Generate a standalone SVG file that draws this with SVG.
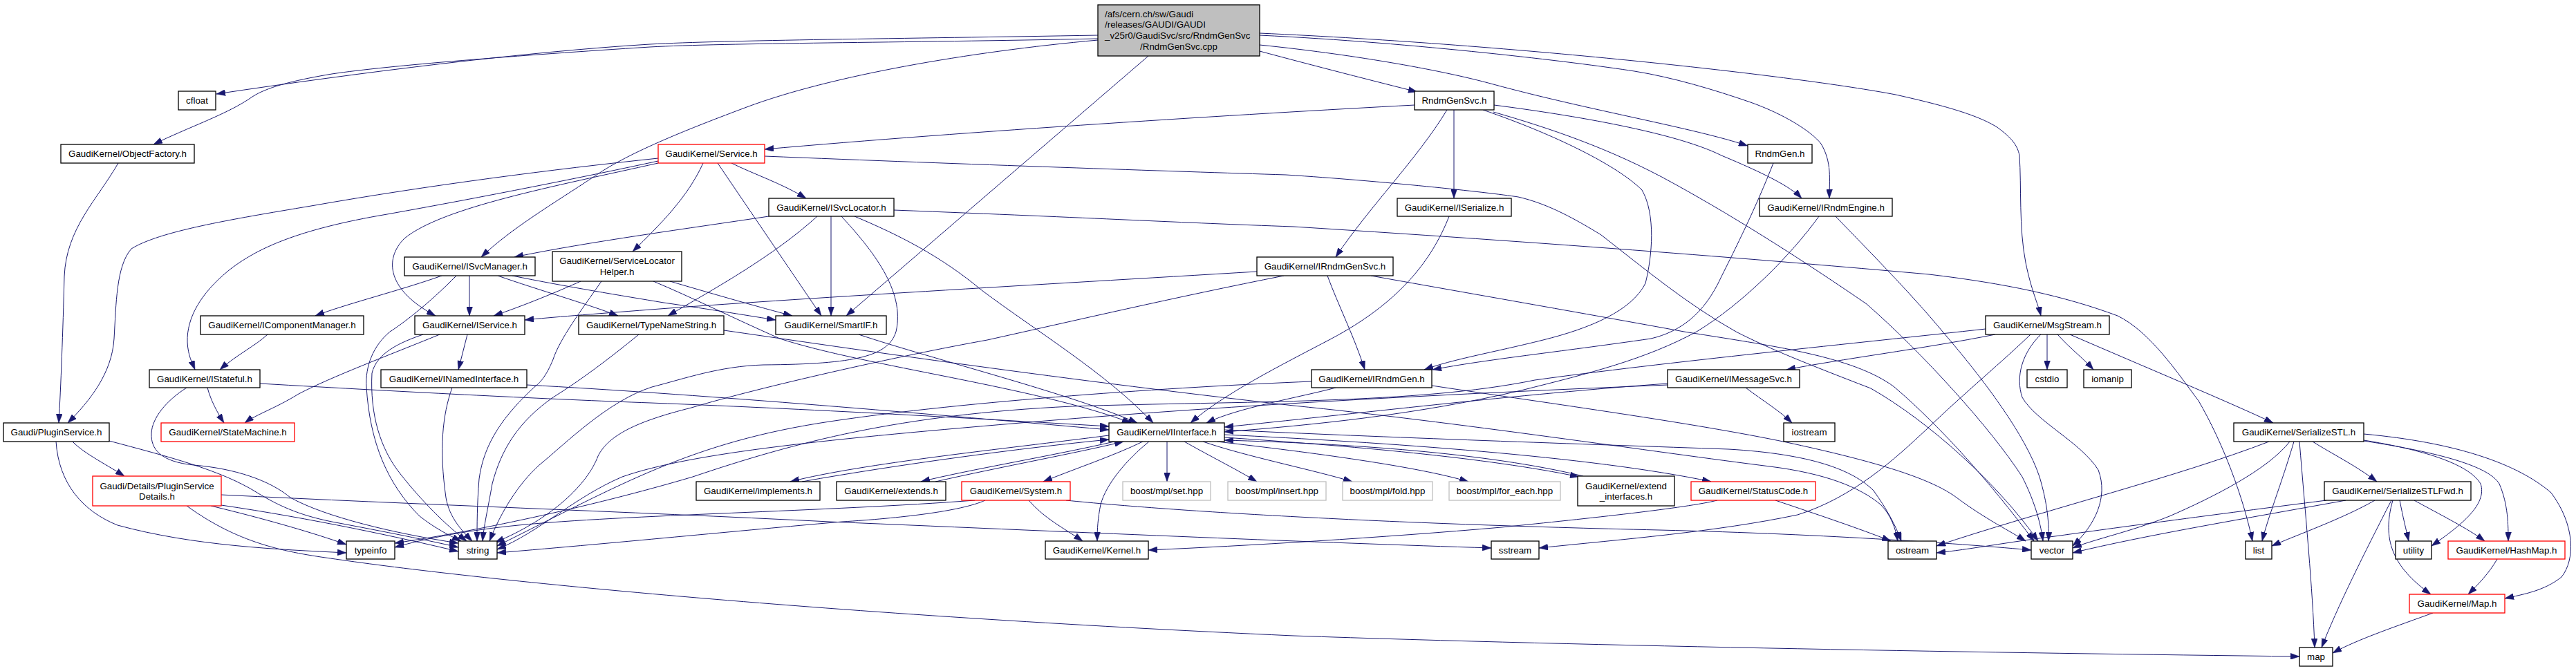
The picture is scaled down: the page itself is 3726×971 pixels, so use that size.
<svg xmlns="http://www.w3.org/2000/svg" width="3726" height="971" viewBox="0 0 3726 971">
<style>
.n rect{fill:#fff;stroke:#000;stroke-width:1.3}
.n.r rect{stroke:#f00}
.n.g rect{stroke:#bfbfbf}
.n.m rect{fill:#bfbfbf}
text{font-family:"Liberation Sans",Arial,Helvetica,sans-serif;font-size:13.33px;fill:#000;text-anchor:middle}
text.l{text-anchor:start}
#edges path{fill:none;stroke:#191970;stroke-width:1;marker-end:url(#a)}
</style>
<defs>
<marker id="a" markerUnits="userSpaceOnUse" markerWidth="13" markerHeight="9" refX="13" refY="4.5" orient="auto" viewBox="0 0 13 9"><path d="M0,0 L13,4.5 L0,9 Z" fill="#191970" stroke="#191970" stroke-width="0.5"/></marker>
</defs>
<rect width="3726" height="971" fill="#fff"/>
<g id="edges">
<path d="M1588,51 C1300,56 1050,58 940,64 C760,75 520,105 313,136"/>
<path d="M1588,56 C1300,62 1050,62 940,68 C750,80 560,95 480,107 C420,117 385,127 365,140 C330,165 270,185 222,209"/>
<path d="M1588,58 C1400,75 1200,110 1080,155 C1000,185 910,220 860,255 C800,295 740,330 696,372"/>
<path d="M1661,81 L1224,457"/>
<path d="M1822,74 C1900,95 1990,118 2050,133"/>
<path d="M1822,65 C1950,78 2080,100 2160,122 C2300,160 2450,185 2528,211"/>
<path d="M1822,51 C2050,62 2280,90 2364,103 C2420,112 2480,130 2532,148 C2580,165 2620,190 2634,208 C2650,235 2646,260 2646,287"/>
<path d="M1822,48 C2200,65 2600,110 2742,137 C2800,150 2860,165 2890,185 C2910,200 2918,210 2921,225 C2924,270 2920,330 2930,380 C2938,420 2948,440 2952,457"/>
<path d="M171,236 C140,290 96,330 93,400 C91,480 88,560 85,612"/>
<path d="M952,229 C800,245 620,268 450,298 C330,318 230,335 190,360 C168,385 168,440 165,490 C162,540 130,580 98,612"/>
<path d="M952,233 C850,255 700,285 560,310 C430,332 370,360 330,392 C290,425 270,460 271,495 C272,515 278,525 282,535"/>
<path d="M952,236 C800,270 640,300 585,345 C555,375 560,420 630,457"/>
<path d="M1017,236 C995,285 955,325 915,364"/>
<path d="M1038,236 L1188,457"/>
<path d="M1058,236 C1090,252 1130,265 1166,287"/>
<path d="M1106,226 C1400,238 1700,248 1860,253 C2000,262 2150,278 2196,285 C2240,295 2280,318 2316,340 C2380,390 2440,440 2511,480 C2560,505 2610,525 2706,562 C2790,610 2890,700 2948,783"/>
<path d="M1112,313 C1000,330 850,350 744,372"/>
<path d="M1182,313 C1120,370 1030,420 966,457"/>
<path d="M1202,313 L1202,457"/>
<path d="M1217,313 C1260,360 1310,420 1296,480 C1285,515 1240,527 1104,528 C1040,530 990,548 943,560 C880,580 820,640 780,673 C750,700 725,740 708,783"/>
<path d="M1236,313 C1300,340 1360,370 1420,420 C1500,480 1600,540 1668,612"/>
<path d="M1293,304 C1600,316 1700,322 1871,328 C2300,355 2600,380 2790,397 C2900,410 2985,428 3063,457 C3110,480 3150,540 3180,580 C3215,640 3245,720 3258,783"/>
<path d="M639,399 C580,420 500,440 456,457"/>
<path d="M660,399 C620,440 580,470 564,480 C540,500 528,530 530,560 C535,640 560,700 607,747 C630,765 650,775 667,783"/>
<path d="M679,399 L679,457"/>
<path d="M720,399 C780,420 850,440 894,457"/>
<path d="M741,399 C820,415 900,428 960,438 C1030,448 1090,458 1122,463"/>
<path d="M840,407 C800,425 750,445 714,457"/>
<path d="M870,407 C840,450 810,490 800,520 C790,545 780,555 773,560 C730,600 700,640 693,693 C690,730 690,760 690,783"/>
<path d="M969,407 C1030,425 1100,445 1146,457"/>
<path d="M945,407 C1000,430 1060,460 1128,490 C1250,530 1500,560 1636,612"/>
<path d="M387,484 C370,500 340,515 318,535"/>
<path d="M636,484 C560,515 480,545 432,570 C400,590 370,600 354,612"/>
<path d="M676,484 L663,535"/>
<path d="M612,484 C580,495 545,510 538,540 C535,600 550,650 580,687 C610,725 645,760 675,783"/>
<path d="M924,484 C880,520 840,550 800,575 C750,610 725,650 712,700 C705,740 700,760 698,783"/>
<path d="M1047,478 C1200,500 1500,545 1871,587 C2100,610 2400,655 2560,675 C2640,685 2690,705 2720,730 C2735,745 2742,765 2745,783"/>
<path d="M1242,484 C1350,520 1550,570 1645,612"/>
<path d="M2046,152 C1800,165 1400,190 1106,216"/>
<path d="M2093,159 C2050,230 1980,300 1932,372"/>
<path d="M2103,159 L2103,287"/>
<path d="M2145,159 C2250,195 2340,240 2375,275 C2395,310 2390,370 2380,410 C2360,450 2300,475 2232,492 C2160,510 2100,520 2060,535"/>
<path d="M2160,162 C2240,185 2330,215 2420,265 C2520,320 2620,385 2700,440 C2780,510 2880,620 2925,690 C2945,730 2952,760 2955,783"/>
<path d="M2161,152 C2300,170 2430,195 2490,225 C2550,250 2590,270 2606,287"/>
<path d="M2565,236 C2540,300 2510,360 2490,400 C2465,455 2430,480 2388,490 C2250,510 2150,520 2072,535"/>
<path d="M2631,313 C2590,370 2520,440 2454,480 C2380,520 2300,540 2200,565 C2050,600 1900,615 1771,625"/>
<path d="M2655,313 C2700,360 2760,420 2810,480 C2870,550 2930,630 2950,690 C2962,730 2964,760 2963,783"/>
<path d="M2096,313 C2070,380 2020,440 1926,490 C1850,530 1770,570 1722,612"/>
<path d="M1920,399 C1935,440 1960,490 1974,535"/>
<path d="M1818,393 C1500,412 1150,432 941,448 C850,455 800,459 759,463"/>
<path d="M1857,399 C1700,430 1550,465 1428,492 C1300,515 1100,560 1000,590 C920,610 880,630 865,660 C850,700 800,750 716,785"/>
<path d="M1983,399 C2100,420 2300,455 2436,480 C2560,500 2680,515 2740,560 C2810,620 2880,700 2942,783"/>
<path d="M300,561 C305,580 315,598 324,612"/>
<path d="M376,555 C600,568 800,578 941,583 C1200,593 1450,608 1604,617"/>
<path d="M270,561 C240,580 220,605 219,627 C218,650 232,668 280,673 C340,678 390,695 420,720 C470,748 570,772 663,786"/>
<path d="M762,557 C1000,570 1300,595 1604,622"/>
<path d="M654,561 C640,600 635,650 645,720 C650,750 670,770 683,783"/>
<path d="M105,639 C120,655 150,670 180,689"/>
<path d="M81,639 C85,700 120,740 170,760 C280,790 400,795 501,800"/>
<path d="M158,638 C240,660 320,680 372,713 C400,730 430,745 480,755 C560,770 620,782 663,792"/>
<path d="M305,732 C380,750 450,770 501,788"/>
<path d="M320,731 C450,750 580,778 663,798"/>
<path d="M320,716 C600,730 900,740 1200,755 C1600,772 1900,785 2157,793"/>
<path d="M270,732 C350,790 420,800 492,810 C700,840 1200,890 1871,920 C2300,935 2900,945 3326,950"/>
<path d="M1604,630 C1450,650 1250,670 1143,697"/>
<path d="M1160,697 C1300,672 1480,648 1604,636"/>
<path d="M1612,639 C1520,660 1400,680 1332,697"/>
<path d="M1353,697 C1450,675 1560,655 1625,639"/>
<path d="M1653,639 C1610,660 1550,680 1509,697"/>
<path d="M1688,639 L1688,697"/>
<path d="M1713,639 C1750,660 1790,680 1818,697"/>
<path d="M1740,639 C1800,660 1900,680 1956,697"/>
<path d="M1760,639 C1900,655 2050,675 2124,697"/>
<path d="M1771,633 C1950,645 2150,662 2284,690"/>
<path d="M2290,689 C2150,655 1950,642 1771,637"/>
<path d="M1771,629 C2000,640 2300,660 2475,697"/>
<path d="M1771,622 C2000,633 2300,643 2500,650 C2620,657 2680,680 2710,710 C2728,735 2742,760 2750,783"/>
<path d="M1662,639 C1630,665 1600,700 1592,730 C1588,750 1587,765 1587,783"/>
<path d="M1488,724 C1510,750 1540,765 1566,783"/>
<path d="M1425,724 C1390,740 1300,750 1218,755 C1100,765 900,785 719,800"/>
<path d="M1410,724 C1200,740 900,745 750,760 C680,767 620,778 571,792"/>
<path d="M1542,724 C1700,740 2000,758 2400,767 C2650,773 2850,788 2938,796"/>
<path d="M2568,724 C2630,745 2690,765 2735,783"/>
<path d="M2484,724 C2440,735 2300,750 2172,763 C2000,778 1800,790 1661,796"/>
<path d="M1932,561 C1880,575 1790,590 1745,612"/>
<path d="M1897,552 C1700,560 1400,580 1200,610 C1000,640 900,700 719,790"/>
<path d="M2071,558 C2250,585 2450,612 2584,640 C2700,665 2790,690 2830,720 C2870,750 2910,770 2930,783"/>
<path d="M2525,561 C2550,580 2575,595 2592,612"/>
<path d="M2412,555 C2200,570 1950,600 1771,618"/>
<path d="M2412,557 C2100,570 1800,585 1500,610 C1200,635 1000,655 900,690 C830,720 780,770 719,795"/>
<path d="M2886,484 C2780,505 2660,520 2584,535"/>
<path d="M2872,476 C2700,495 2400,525 2220,550 C2050,585 1800,580 1550,588 C1300,600 1150,640 1002,690 C850,735 680,770 571,786"/>
<path d="M2937,484 C2900,520 2840,570 2788,620 C2740,665 2680,720 2600,745 C2480,770 2350,780 2226,793"/>
<path d="M2952,484 C2925,510 2915,545 2925,575 C2945,610 3010,640 3035,680 C3050,720 3030,760 2998,790"/>
<path d="M2961,484 L2961,535"/>
<path d="M2976,484 C2995,505 3015,520 3028,535"/>
<path d="M2994,484 C3100,530 3220,580 3288,612"/>
<path d="M3282,639 C3150,690 2950,740 2801,790"/>
<path d="M3312,639 C3280,680 3200,720 3138,747 C3080,770 3030,780 2998,793"/>
<path d="M3318,639 C3300,700 3280,750 3272,783"/>
<path d="M3326,639 C3335,750 3345,850 3348,937"/>
<path d="M3345,639 C3370,655 3410,675 3438,697"/>
<path d="M3419,637 C3500,650 3570,670 3588,700 C3598,730 3560,760 3517,790"/>
<path d="M3419,638 C3530,655 3600,675 3615,700 C3628,730 3628,760 3628,783"/>
<path d="M3419,628 C3550,640 3640,670 3690,713 C3725,760 3725,810 3705,835 C3680,855 3650,860 3623,866"/>
<path d="M3365,724 C3200,745 3050,765 2980,775 C2900,785 2850,795 2801,800"/>
<path d="M3393,724 C3250,750 3100,775 2998,800"/>
<path d="M3435,724 C3390,750 3320,775 3286,790"/>
<path d="M3459,724 C3420,800 3380,880 3358,937"/>
<path d="M3471,724 C3476,750 3480,765 3484,783"/>
<path d="M3492,724 C3530,745 3570,765 3594,783"/>
<path d="M3461,724 C3445,780 3460,820 3516,860"/>
<path d="M3612,809 C3600,830 3585,845 3570,860"/>
<path d="M3519,887 C3470,905 3410,925 3374,945"/>
</g>
<g id="n_main" class="n m"><rect x="1588" y="7" width="234" height="74"/><text class="l" x="1598" y="24.5">/afs/cern.ch/sw/Gaudi</text><text class="l" x="1598" y="40.3">/releases/GAUDI/GAUDI</text><text class="l" x="1598" y="56.1">_v25r0/GaudiSvc/src/RndmGenSvc</text><text x="1705" y="72">/RndmGenSvc.cpp</text></g>
<g id="n_cfloat" class="n"><rect x="258" y="132" width="54" height="27"/><text x="285" y="150">cfloat</text></g>
<g id="n_objectfactory" class="n"><rect x="88" y="209" width="193" height="27"/><text x="184.5" y="227">GaudiKernel/ObjectFactory.h</text></g>
<g id="n_isvcmanager" class="n"><rect x="585" y="372" width="189" height="27"/><text x="679.5" y="390">GaudiKernel/ISvcManager.h</text></g>
<g id="n_smartif" class="n"><rect x="1122" y="457" width="160" height="27"/><text x="1202" y="475">GaudiKernel/SmartIF.h</text></g>
<g id="n_rndmgensvc_h" class="n"><rect x="2046" y="132" width="115" height="27"/><text x="2103.5" y="150">RndmGenSvc.h</text></g>
<g id="n_rndmgen_h" class="n"><rect x="2528" y="209" width="93" height="27"/><text x="2574.5" y="227">RndmGen.h</text></g>
<g id="n_irndmengine" class="n"><rect x="2545" y="287" width="192" height="26"/><text x="2641" y="304.5">GaudiKernel/IRndmEngine.h</text></g>
<g id="n_msgstream" class="n"><rect x="2872" y="457" width="179" height="27"/><text x="2961.5" y="475">GaudiKernel/MsgStream.h</text></g>
<g id="n_service" class="n r"><rect x="952" y="209" width="154" height="27"/><text x="1029" y="227">GaudiKernel/Service.h</text></g>
<g id="n_isvclocator" class="n"><rect x="1112" y="287" width="181" height="26"/><text x="1202.5" y="304.5">GaudiKernel/ISvcLocator.h</text></g>
<g id="n_servicelocatorhelper" class="n"><rect x="799" y="364" width="187" height="43"/><text x="892.5" y="381.5">GaudiKernel/ServiceLocator</text><text x="892.5" y="397.5">Helper.h</text></g>
<g id="n_icomponentmanager" class="n"><rect x="290" y="457" width="236" height="27"/><text x="408" y="475">GaudiKernel/IComponentManager.h</text></g>
<g id="n_iservice" class="n"><rect x="600" y="457" width="159" height="27"/><text x="679.5" y="475">GaudiKernel/IService.h</text></g>
<g id="n_typenamestring" class="n"><rect x="837" y="457" width="210" height="27"/><text x="942" y="475">GaudiKernel/TypeNameString.h</text></g>
<g id="n_iserialize" class="n"><rect x="2021" y="287" width="165" height="26"/><text x="2103.5" y="304.5">GaudiKernel/ISerialize.h</text></g>
<g id="n_irndmgensvc" class="n"><rect x="1818" y="372" width="197" height="27"/><text x="1916.5" y="390">GaudiKernel/IRndmGenSvc.h</text></g>
<g id="n_istateful" class="n"><rect x="216" y="535" width="160" height="26"/><text x="296" y="552.5">GaudiKernel/IStateful.h</text></g>
<g id="n_inamedinterface" class="n"><rect x="551" y="535" width="211" height="26"/><text x="656.5" y="552.5">GaudiKernel/INamedInterface.h</text></g>
<g id="n_pluginservice" class="n"><rect x="5" y="612" width="153" height="27"/><text x="81.5" y="630">Gaudi/PluginService.h</text></g>
<g id="n_statemachine" class="n r"><rect x="233" y="612" width="193" height="27"/><text x="329.5" y="630">GaudiKernel/StateMachine.h</text></g>
<g id="n_pluginservicedetails" class="n r"><rect x="134" y="689" width="186" height="43"/><text x="227" y="707.5">Gaudi/Details/PluginService</text><text x="227" y="723">Details.h</text></g>
<g id="n_typeinfo" class="n"><rect x="501" y="783" width="70" height="26"/><text x="536" y="800.5">typeinfo</text></g>
<g id="n_string" class="n"><rect x="663" y="783" width="56" height="26"/><text x="691" y="800.5">string</text></g>
<g id="n_iinterface" class="n"><rect x="1604" y="612" width="167" height="27"/><text x="1687.5" y="630">GaudiKernel/IInterface.h</text></g>
<g id="n_implements" class="n"><rect x="1007" y="697" width="179" height="27"/><text x="1096.5" y="715">GaudiKernel/implements.h</text></g>
<g id="n_extends" class="n"><rect x="1210" y="697" width="158" height="27"/><text x="1289" y="715">GaudiKernel/extends.h</text></g>
<g id="n_system" class="n r"><rect x="1391" y="697" width="157" height="27"/><text x="1469.5" y="715">GaudiKernel/System.h</text></g>
<g id="n_mpl_set" class="n g"><rect x="1624" y="697" width="127" height="27"/><text x="1687.5" y="715">boost/mpl/set.hpp</text></g>
<g id="n_mpl_insert" class="n g"><rect x="1776" y="697" width="142" height="27"/><text x="1847" y="715">boost/mpl/insert.hpp</text></g>
<g id="n_mpl_fold" class="n g"><rect x="1942" y="697" width="130" height="27"/><text x="2007" y="715">boost/mpl/fold.hpp</text></g>
<g id="n_mpl_for_each" class="n g"><rect x="2096" y="697" width="161" height="27"/><text x="2176.5" y="715">boost/mpl/for_each.hpp</text></g>
<g id="n_extend_interfaces" class="n"><rect x="2282" y="689" width="140" height="43"/><text x="2352" y="707.5">GaudiKernel/extend</text><text x="2352" y="723">_interfaces.h</text></g>
<g id="n_statuscode" class="n r"><rect x="2446" y="697" width="180" height="27"/><text x="2536" y="715">GaudiKernel/StatusCode.h</text></g>
<g id="n_kernel" class="n"><rect x="1512" y="783" width="149" height="26"/><text x="1586.5" y="800.5">GaudiKernel/Kernel.h</text></g>
<g id="n_sstream" class="n"><rect x="2157" y="783" width="69" height="26"/><text x="2191.5" y="800.5">sstream</text></g>
<g id="n_ostream" class="n"><rect x="2731" y="783" width="70" height="26"/><text x="2766" y="800.5">ostream</text></g>
<g id="n_irndmgen" class="n"><rect x="1897" y="535" width="174" height="26"/><text x="1984" y="552.5">GaudiKernel/IRndmGen.h</text></g>
<g id="n_imessagesvc" class="n"><rect x="2412" y="535" width="191" height="26"/><text x="2507.5" y="552.5">GaudiKernel/IMessageSvc.h</text></g>
<g id="n_iostream" class="n"><rect x="2580" y="612" width="74" height="27"/><text x="2617" y="630">iostream</text></g>
<g id="n_cstdio" class="n"><rect x="2932" y="535" width="58" height="26"/><text x="2961" y="552.5">cstdio</text></g>
<g id="n_iomanip" class="n"><rect x="3014" y="535" width="69" height="26"/><text x="3048.5" y="552.5">iomanip</text></g>
<g id="n_serializestl" class="n"><rect x="3231" y="612" width="188" height="27"/><text x="3325" y="630">GaudiKernel/SerializeSTL.h</text></g>
<g id="n_serializestlfwd" class="n"><rect x="3362" y="697" width="212" height="27"/><text x="3468" y="715">GaudiKernel/SerializeSTLFwd.h</text></g>
<g id="n_vector" class="n"><rect x="2938" y="783" width="60" height="26"/><text x="2968" y="800.5">vector</text></g>
<g id="n_list" class="n"><rect x="3248" y="783" width="38" height="26"/><text x="3267" y="800.5">list</text></g>
<g id="n_utility" class="n"><rect x="3465" y="783" width="52" height="26"/><text x="3491" y="800.5">utility</text></g>
<g id="n_hashmap" class="n r"><rect x="3541" y="783" width="169" height="26"/><text x="3625.5" y="800.5">GaudiKernel/HashMap.h</text></g>
<g id="n_map_h" class="n r"><rect x="3485" y="860" width="138" height="27"/><text x="3554" y="878">GaudiKernel/Map.h</text></g>
<g id="n_map" class="n"><rect x="3326" y="937" width="48" height="27"/><text x="3350" y="955">map</text></g>
</svg>
